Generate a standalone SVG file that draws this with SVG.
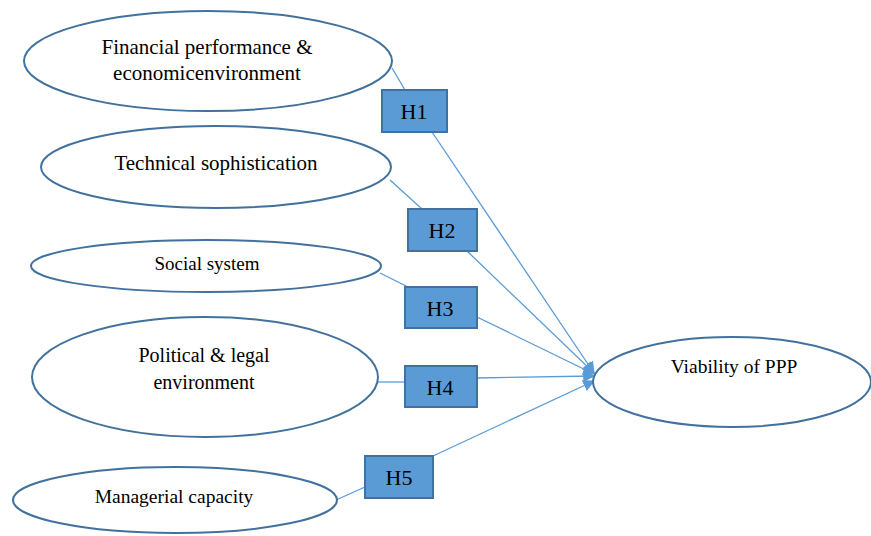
<svg xmlns="http://www.w3.org/2000/svg" width="871" height="536" viewBox="0 0 871 536">
<defs>
<style>
.el{fill:#fff;stroke:#41719C;stroke-width:2}
.bx{fill:#5B9BD5;stroke:#41719C;stroke-width:2}
.t{font-family:"Liberation Serif","Times New Roman",serif;fill:#000;text-anchor:middle}
.c{stroke:#5B9BD5;stroke-width:1.3;fill:none}
</style>
<marker id="ah" viewBox="0 0 10 10" refX="9" refY="5" markerWidth="12" markerHeight="12" markerUnits="userSpaceOnUse" orient="auto">
<path d="M0,0 L10,5 L0,10 z" fill="#5B9BD5"/>
</marker>
</defs>
<rect width="871" height="536" fill="#fff"/>
<g id="connectors">
<line class="c" x1="392" y1="68" x2="405" y2="90"/>
<line class="c" x1="432" y1="132" x2="594" y2="373" marker-end="url(#ah)"/>
<line class="c" x1="390" y1="180" x2="422" y2="209"/>
<line class="c" x1="467" y1="251" x2="594" y2="373" marker-end="url(#ah)"/>
<line class="c" x1="380" y1="273" x2="408" y2="287"/>
<line class="c" x1="477" y1="317" x2="594" y2="374" marker-end="url(#ah)"/>
<line class="c" x1="378" y1="382" x2="405" y2="382"/>
<line class="c" x1="477" y1="378" x2="594" y2="376" marker-end="url(#ah)"/>
<line class="c" x1="336" y1="500" x2="365" y2="487"/>
<line class="c" x1="433" y1="456" x2="594" y2="381" marker-end="url(#ah)"/>
</g>
<g id="n1">
<ellipse class="el" cx="208" cy="61" rx="184" ry="50"/>
<text class="t" x="207" y="54" font-size="21">Financial performance &amp;</text>
<text class="t" x="207" y="80" font-size="21">economicenvironment</text>
</g>
<g id="n2">
<ellipse class="el" cx="216" cy="167" rx="175" ry="41"/>
<text class="t" x="216" y="170" font-size="21">Technical sophistication</text>
</g>
<g id="n3">
<ellipse class="el" cx="206" cy="266" rx="175" ry="26"/>
<text class="t" x="207" y="270" font-size="19">Social system</text>
</g>
<g id="n4">
<ellipse class="el" cx="205" cy="377" rx="173" ry="60"/>
<text class="t" x="204" y="362" font-size="20">Political &amp; legal</text>
<text class="t" x="204" y="389" font-size="20">environment</text>
</g>
<g id="n5">
<ellipse class="el" cx="175" cy="500" rx="162" ry="33"/>
<text class="t" x="174" y="503" font-size="19.5">Managerial capacity</text>
</g>
<g id="n6">
<ellipse class="el" cx="732" cy="382" rx="139" ry="45"/>
<text class="t" x="734" y="373" font-size="19.5">Viability of PPP</text>
</g>
<g id="h1"><rect class="bx" x="382" y="90" width="65" height="42"/><text class="t" x="414" y="119" font-size="22">H1</text></g>
<g id="h2"><rect class="bx" x="408" y="209" width="69" height="42"/><text class="t" x="442" y="238" font-size="22">H2</text></g>
<g id="h3"><rect class="bx" x="405" y="287" width="72" height="41"/><text class="t" x="440" y="316" font-size="22">H3</text></g>
<g id="h4"><rect class="bx" x="405" y="366" width="72" height="41"/><text class="t" x="440" y="395" font-size="22">H4</text></g>
<g id="h5"><rect class="bx" x="365" y="456" width="68" height="42"/><text class="t" x="399" y="485" font-size="22">H5</text></g>
</svg>
